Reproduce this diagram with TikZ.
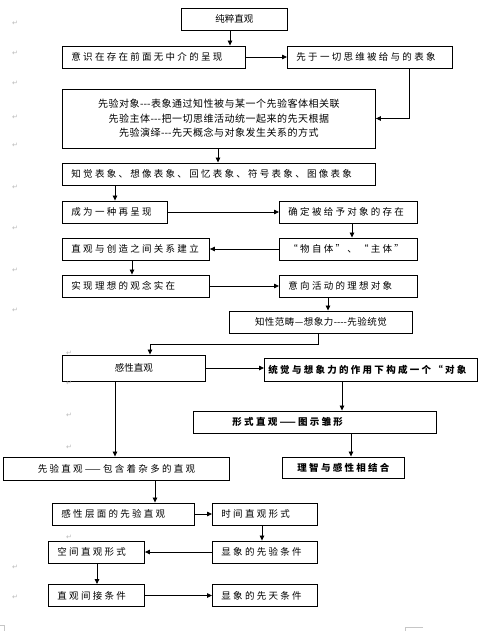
\documentclass[tikz,border=0pt]{standalone}
\usepackage{fontspec}
\usetikzlibrary{arrows.meta}

\newfontfamily\cjkn{Noto Sans CJK SC}
\newfontfamily\cjkm[LetterSpace=5]{Noto Sans CJK SC}
\newfontfamily\cjkw[LetterSpace=24]{Noto Sans CJK SC}
\newfontfamily\marksym{DejaVu Sans}

\begin{document}
\begin{tikzpicture}[
    x=1pt,y=-1pt,
    box/.style={draw,line width=0.9pt,anchor=west,inner xsep=9pt,inner ysep=0pt,
                minimum height=22pt,align=left,font=\fontsize{9.5}{11}\cjkw},
    boxc/.style={draw,line width=0.9pt,anchor=west,inner sep=0pt,
                 minimum height=22pt,align=center,font=\fontsize{9.5}{11}\cjkn},
    arr/.style={line width=0.8pt,-{Triangle[length=5pt,width=4.5pt]}},
    pmark/.style={font=\fontsize{7}{7}\marksym,text=gray!55,inner sep=0pt},
]
\useasboundingbox (0,0) rectangle (482,631);

% ---- top part ------------------------------------------------------------
\node[boxc,minimum width=106pt] (pure) at (181,19) {纯粹直观};
\node[box,text width=165pt] (aware) at (62,57) {意识在存在前面无中介的呈现};
\node[box,text width=147pt] (prior) at (287,57) {先于一切思维被给与的表象};
\node[boxc,minimum width=313pt,minimum height=59pt,
      font=\fontsize{10}{14.5}\cjkm] (trans) at (62,118.5)
      {先验对象-\kern0pt-\kern0pt-表象通过知性被与某一个先验客体相关联\\
       先验主体-\kern0pt-\kern0pt-把一切思维活动统一起来的先天根据\\
       先验演绎-\kern0pt-\kern0pt-先天概念与对象发生关系的方式};
\node[box,text width=295pt] (repr) at (62,174) {知觉表象、想像表象、回忆表象、符号表象、图像表象};

\draw[arr] (pure.south -| 230,0) -- (aware.north -| 230,0);
\draw[arr] (aware.east) -- (prior.west);
\draw[arr] (prior.south -| 409,0) |- (trans.east);
\draw[arr] (trans.south -| 218,0) -- (repr.north -| 218,0);

% ---- middle part ---------------------------------------------------------
\node[box,text width=87pt]  (again)  at (62,212)  {成为一种再呈现};
\node[box,text width=120pt] (exist)  at (279,212) {确定被给予对象的存在};
\node[box,text width=120pt] (thing)  at (279,249) {“物自体”、“主体”};
\node[box,text width=129pt] (create) at (62,249)  {直观与创造之间关系建立};
\node[box,text width=129pt] (ideal)  at (62,286)  {实现理想的观念实在};
\node[box,text width=120pt] (intent) at (279,286) {意向活动的理想对象};
\node[boxc,minimum width=183pt,font=\fontsize{9.5}{11}\cjkm] (categ) at (229,322)
      {知性范畴—想象力-\kern0pt-\kern0pt-\kern0pt-先验统觉};

\draw[arr] (repr.south -| 115,0) -- (again.north -| 115,0);
\draw[arr] (again.east) -- (again.east -| exist.west);
\draw[arr] (exist.south -| 352,0) -- (thing.north -| 352,0);
\draw[arr] (thing.west) -- (create.east);
\draw[arr] (create.south -| 132,0) -- (ideal.north -| 132,0);
\draw[arr] (ideal.east) -- (intent.west);
\draw[arr] (intent.south -| 328,0) -- (categ.north -| 328,0);

% ---- sense intuition -----------------------------------------------------
\node[boxc,minimum width=143pt,minimum height=26pt] (sense) at (62,368) {感性直观};
\node[box,text width=205pt,inner xsep=4pt,minimum height=23pt,
      font=\fontsize{9.5}{11}\cjkw\bfseries] (object) at (264,369.5)
      {统觉与想象力的作用下构成一个“对象};
\node[box,text width=165pt,inner xsep=39pt,
      font=\fontsize{9.5}{11}\cjkw\bfseries] (formal) at (193,422)
      {形式直观——图示雏形};
\node[boxc,minimum width=122pt,minimum height=21pt,
      font=\fontsize{9.5}{11}\cjkw\bfseries] (reason) at (282,467.5) {理智与感性相结合};
\node[boxc,minimum width=226pt,minimum height=23pt,
      font=\fontsize{9.5}{11}\cjkw] (apriori) at (3,468.5) {先验直观——包含着杂多的直观};

\draw[arr] (categ.south -| 318,0) -- ++(0,11) -| (sense.north -| 150,0);
\draw[arr] (sense.east) -- (sense.east -| object.west);
\draw[arr] (object.south -| 342,0) -- (formal.north -| 342,0);
\draw[arr] (formal.south -| 351,0) -- (reason.north -| 351,0);
\draw[arr] (sense.south -| 115,0) -- (apriori.north -| 115,0);

% ---- bottom part ---------------------------------------------------------
\node[box,text width=124pt] (senselvl) at (52,514)    {感性层面的先验直观};
\node[box,text width=87pt]  (time)     at (212,514)   {时间直观形式};
\node[box,text width=78pt]  (space)    at (48,552)    {空间直观形式};
\node[box,text width=87pt]  (cond)     at (212,552)   {显象的先验条件};
\node[box,text width=78pt]  (indirect) at (48,595.5)  {直观间接条件};
\node[box,text width=87pt]  (innate)   at (212,595.5) {显象的先天条件};

\draw[arr] (apriori.south -| 155,0) -- (senselvl.north -| 155,0);
\draw[arr] (senselvl.east) -- (time.west);
\draw[arr] (time.south -| 262,0) -- (cond.north -| 262,0);
\draw[arr] (cond.west) -- (space.east);
\draw[arr] (space.south -| 97,0) -- (indirect.north -| 97,0);
\draw[arr] (indirect.east) -- (innate.west);

% ---- paragraph marks ------------------------------------------------------
\foreach \px/\py [count=\i] in {15/23,15/53,15/83,15/117,15/145,15/187,15/228,
    15/270,15/310,69/353,69/383,69/415,69/447,69/537,15/567,15/597}
  \node[pmark] (pm\i) at (\px,\py) {↵};

% page corner marks
\draw[gray!45,line width=0.4pt] (0,625) -- (4,625) -- (4,631);
\draw[gray!45,line width=0.4pt] (423,627) -- (405,627) -- (405,631);

\end{tikzpicture}
\end{document}
